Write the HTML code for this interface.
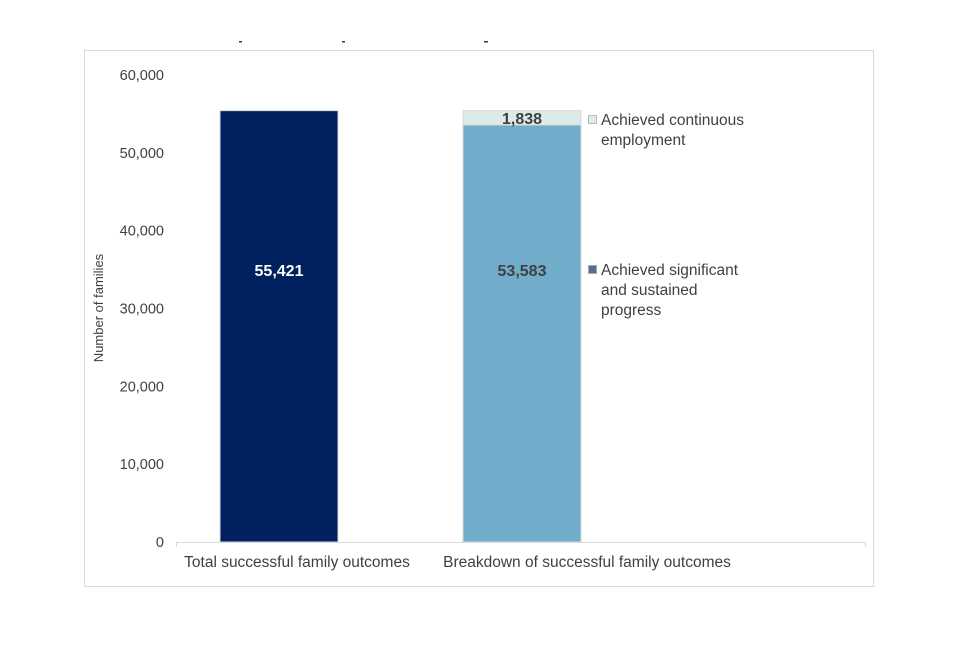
<!DOCTYPE html>
<html><head><meta charset="utf-8"><style>
body{margin:0;background:#fff;width:960px;height:640px;overflow:hidden;font-family:"Liberation Sans",Arial,sans-serif}
</style></head><body>
<svg width="960" height="640" xmlns="http://www.w3.org/2000/svg" id="svg">
<rect x="84.5" y="50.5" width="789" height="536" fill="#fff" stroke="#d9d9d9"/>
<rect x="239" y="41" width="3" height="1.5" fill="#1f3a7a"/>
<rect x="342" y="41" width="3" height="1.5" fill="#1f3a7a"/>
<rect x="484" y="41" width="4" height="1.5" fill="#1f3a7a"/>
<text x="0" y="0" transform="translate(103,308) rotate(-90)" text-anchor="middle" font-size="13" fill="#404040">Number of families</text>
<g id="yaxis"></g>
<g id="bars"></g>
<line x1="176" y1="542.5" x2="866" y2="542.5" stroke="#d9d9d9"/>
<line x1="176.5" y1="542" x2="176.5" y2="547" stroke="#d9d9d9"/>
<line x1="865.5" y1="542" x2="865.5" y2="547" stroke="#d9d9d9"/>
<g>
<rect x="588.5" y="115.5" width="8" height="8" fill="#dcebe8" stroke="#bbb"/>
<text x="601" y="125" font-size="15.5" fill="#404040">Achieved continuous</text>
<text x="601" y="145" font-size="15.5" fill="#404040">employment</text>
<rect x="588.5" y="265.5" width="8" height="8" fill="#5a6b9a" stroke="#aaa"/>
<text x="601" y="275" font-size="15.5" fill="#404040">Achieved significant</text>
<text x="601" y="295" font-size="15.5" fill="#404040">and sustained</text>
<text x="601" y="315" font-size="15.5" fill="#404040">progress</text>
</g>
</svg>
<script>
const categories=["Total successful family outcomes","Breakdown of successful family outcomes"];
const totalValues=[55421,0];
const progressValues=[0,53583];
const employmentValues=[0,1838];
const yTicks=[0,10000,20000,30000,40000,50000,60000];
const NS="http://www.w3.org/2000/svg";
const y=v=>542-v*(467/60000);
const xc=i=>279+i*243;
const lc=i=>297+i*290;
const bw=118;
const fmt=v=>v.toLocaleString("en-US");
function mk(tag,attrs,parent,text){const e=document.createElementNS(NS,tag);for(const k in attrs)e.setAttribute(k,attrs[k]);if(text!==undefined)e.textContent=text;parent.appendChild(e);return e;}
const ya=document.getElementById('yaxis');
yTicks.forEach(t=>{const e=mk('text',{x:164,y:y(t)+5,'text-anchor':'end','font-size':14.5,fill:'#404040'},ya,fmt(t));

});
const bars=document.getElementById('bars');
categories.forEach((c,i)=>{
 const l=mk('text',{x:lc(i),y:567,'text-anchor':'middle','font-size':15.5,fill:'#404040'},bars,c);
 
 
 if(totalValues[i]>0){const v=totalValues[i];
  const r=mk('rect',{x:xc(i)-bw/2,y:y(v),width:bw,height:y(0)-y(v),fill:'#002060',stroke:'#d9d9d9'},bars);
  
  
  const t=mk('text',{x:xc(i),y:y(v*0.63)+6,'text-anchor':'middle','font-size':16,'font-weight':'bold',fill:'#fff'},bars,fmt(v));
  
  }
 if(progressValues[i]>0){const v=progressValues[i];
  const r=mk('rect',{x:xc(i)-bw/2,y:y(v),width:bw,height:y(0)-y(v),fill:'#71adcb',stroke:'#d9d9d9'},bars);
  
  
  const t=mk('text',{x:xc(i),y:y(v*0.652)+6,'text-anchor':'middle','font-size':16,'font-weight':'bold',fill:'#404040'},bars,fmt(v));
  
  
  const e2=employmentValues[i];
  const r2=mk('rect',{x:xc(i)-bw/2,y:y(v+e2),width:bw,height:y(v)-y(v+e2),fill:'#dcebe8',stroke:'#d9d9d9'},bars);
  
  
  const t2=mk('text',{x:xc(i),y:(y(v+e2)+y(v))/2+6,'text-anchor':'middle','font-size':16,'font-weight':'bold',fill:'#404040'},bars,fmt(e2));
  
  }
});
</script>
</body></html>
